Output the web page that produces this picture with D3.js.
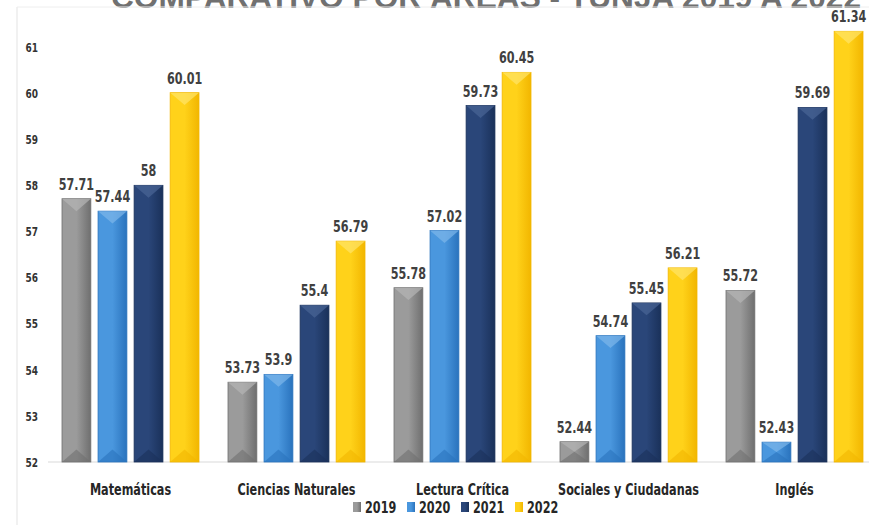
<!DOCTYPE html>
<html>
<head>
<meta charset="utf-8">
<script src="https://cdn.jsdelivr.net/npm/d3@7"></script>
<style>
  body { margin: 0; background: #fff; }
  svg text { font-family: "DejaVu Sans", sans-serif; font-weight: bold; }
</style>
</head>
<body>
<svg id="chart" width="869" height="525"></svg>
<script>
// datos
const areas = ["Matemáticas", "Ciencias Naturales", "Lectura Crítica", "Sociales y Ciudadanas", "Inglés"];
const years = ["2019", "2020", "2021", "2022"];
const v2019 = [57.71, 53.73, 55.78, 52.44, 55.72];
const v2020 = [57.44, 53.9, 57.02, 54.74, 52.43];
const v2021 = [58, 55.4, 59.73, 55.45, 59.69];
const v2022 = [60.01, 56.79, 60.45, 56.21, 61.34];
const yTicks = [52, 53, 54, 55, 56, 57, 58, 59, 60, 61];
const titulo = "COMPARATIVO POR ÁREAS - TUNJA 2019 A 2022";

const series = [v2019, v2020, v2021, v2022];
const rows = [];
areas.forEach((a, i) => years.forEach((y, j) => rows.push({area: a, year: y, value: series[j][i]})));

const colors = {
  "2019": ["#6f6f6f", "#9b9b9b", "#b5b5b5"],
  "2020": ["#2a73bd", "#4a97de", "#7db7ea"],
  "2021": ["#1a315a", "#2a4679", "#4a6596"],
  "2022": ["#f2b600", "#ffd21a", "#ffe46a"]
};

// texto angosto (tipo Calibri condensado)
const narrow = 0.7;

const svg = d3.select("#chart");
const defs = svg.append("defs");
years.forEach(y => {
  const g = defs.append("linearGradient").attr("id", "g" + y)
    .attr("x1", 0).attr("x2", 1).attr("y1", 0).attr("y2", 0);
  g.append("stop").attr("offset", "0%").attr("stop-color", colors[y][1]);
  g.append("stop").attr("offset", "50%").attr("stop-color", colors[y][1]);
  g.append("stop").attr("offset", "100%").attr("stop-color", colors[y][0]);
});

const x0 = d3.scaleBand().domain(areas).range([47.5, 877.5]).paddingInner(0).paddingOuter(0);
const x1 = d3.scaleBand().domain(years).range([14.5, 166 - 14.5]).paddingInner(0.2).paddingOuter(0);
const y = d3.scaleLinear().domain([52, 61]).range([462, 47]);

// titulo (cortado arriba como en la imagen)
svg.append("text")
  .attr("x", 486).attr("y", 8)
  .attr("text-anchor", "middle")
  .attr("font-size", 32)
  .attr("fill", "#707070")
  .attr("textLength", 750)
  .attr("lengthAdjust", "spacingAndGlyphs")
  .style("font-family", "Liberation Sans, sans-serif")
  .text(titulo);

// borde del area
svg.append("line").attr("x1", 17).attr("x2", 17).attr("y1", 7).attr("y2", 525)
  .attr("stroke", "#e3e3e3");
svg.append("line").attr("x1", 17).attr("x2", 869).attr("y1", 7).attr("y2", 7)
  .attr("stroke", "#eeeeee");

// eje y
const yAxis = svg.append("g").attr("transform", "translate(38,0)")
  .call(d3.axisLeft(y).tickValues(yTicks).tickSize(0).tickPadding(0));
yAxis.select(".domain").remove();
yAxis.selectAll(".tick text")
  .attr("x", null).attr("dy", "0.36em")
  .attr("transform", `scale(${narrow + 0.05},1)`)
  .attr("font-size", 12).attr("fill", "#333")
  .style("font-family", "DejaVu Sans, sans-serif").style("font-weight", "bold");

// linea base
svg.append("line").attr("x1", 48).attr("x2", 869).attr("y1", y(52)).attr("y2", y(52))
  .attr("stroke", "#d9d9d9");

const bw = x1.bandwidth();
const bars = svg.append("g").selectAll("g").data(rows).join("g")
  .attr("transform", d => `translate(${x0(d.area) + x1(d.year)},0)`);

bars.append("rect")
  .attr("x", 0).attr("y", d => y(d.value))
  .attr("width", bw).attr("height", d => y(52) - y(d.value))
  .attr("fill", d => `url(#g${d.year})`)
  .attr("stroke", d => colors[d.year][0]).attr("stroke-width", 0.8);

// bisel superior
bars.append("path")
  .attr("d", d => {
    const t = y(d.value), h = Math.min(bw / 2 - 2, (y(52) - t) / 2);
    return `M0,${t}L${bw},${t}L${bw / 2},${t + h}Z`;
  })
  .attr("fill", d => colors[d.year][2]).attr("opacity", 0.7);

// bisel inferior
bars.append("path")
  .attr("d", d => {
    const b = y(52), h = Math.min(bw / 2 - 2, (y(52) - y(d.value)) / 2);
    return `M0,${b}L${bw},${b}L${bw / 2},${b - h}Z`;
  })
  .attr("fill", d => colors[d.year][0]).attr("opacity", 0.6);

// etiquetas de valores
bars.append("text")
  .attr("transform", d => `translate(${bw / 2},${y(d.value) - 9}) scale(${narrow},1)`)
  .attr("text-anchor", "middle")
  .attr("font-size", 16).attr("fill", "#404040")
  .text(d => d.value);

// categorias
svg.append("g").selectAll("text").data(areas).join("text")
  .attr("transform", d => `translate(${x0(d) + x0.bandwidth() / 2},495) scale(${narrow + 0.05},1)`)
  .attr("text-anchor", "middle")
  .attr("font-size", 15).attr("fill", "#262626")
  .text(d => d);

// leyenda
const lx = d3.scaleBand().domain(years).range([353, 569]);
const leg = svg.append("g").selectAll("g").data(years).join("g")
  .attr("transform", d => `translate(${lx(d)},502)`);
leg.append("rect").attr("width", 8).attr("height", 10)
  .attr("fill", d => `url(#g${d})`);
leg.append("text")
  .attr("transform", `translate(12,11) scale(${narrow + 0.05},1)`)
  .attr("font-size", 15).attr("fill", "#262626")
  .text(d => d);
</script>
</body>
</html>
